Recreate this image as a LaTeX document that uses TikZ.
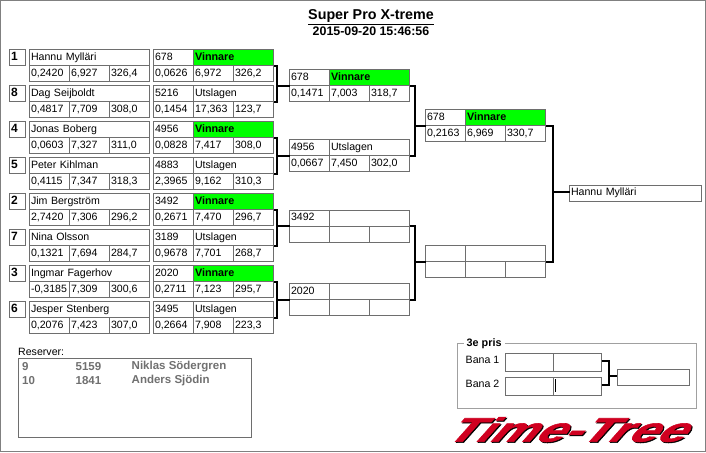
\documentclass[tikz,border=0pt]{standalone}
\usepackage{fontspec}
\setmainfont{Liberation Sans}
\newfontfamily\logofont[UprightFont={* Bold},FakeBold=1.6]{Liberation Sans}
\definecolor{linegray}{HTML}{6E6E6E}
\definecolor{framegray}{HTML}{808080}
\definecolor{lightgray2}{HTML}{A0A0A0}
\definecolor{vgreen}{HTML}{00FF00}
\definecolor{logored}{HTML}{D00020}
\definecolor{resgray}{HTML}{707070}
\tikzset{
  base/.style={font=\fontsize{10.6}{12}\selectfont},
  cell/.style={base,draw=linegray,line width=1pt,anchor=north west,outer sep=0pt,inner xsep=1.5pt,inner ysep=0pt,
     minimum height=16pt,text height=8pt,text depth=2.5pt,align=left},
  br/.style={draw=black,line width=2pt,line cap=butt,line join=miter},
  plain/.style={base,anchor=west,inner sep=0pt},
  resv/.style={font=\fontsize{11.5}{12}\selectfont\bfseries,text=resgray,anchor=west,inner sep=0pt},
  logotext/.style={font=\logofont\fontsize{34}{36}\selectfont,inner sep=0pt,xscale=1.49,xslant=0.6},
}
\newcommand\rowcells[6]{%
  \node[cell,text width=37pt] (#1-c) at (#2,#3) {#4};
  \node[cell,text width=37pt] (#1-d) at (#2+40,#3) {#5};
  \node[cell,text width=37pt] (#1-e) at (#2+80,#3) {#6};
}
\newcommand\entrant[5]{% name x y seed driver
  \node[cell,font=\fontsize{12}{12}\selectfont\bfseries,text width=13pt,minimum height=15.5pt] (#1-s) at (#2-20,#3) {#4};
  \node[cell,text width=117pt] (#1-a) at (#2,#3) {#5};
}
\newcommand\resbox[8]{% name x y id state s1 s2 s3
  \node[cell,text width=37pt] (#1-a) at (#2,#3) {#4};
  \node[cell,text width=77pt] (#1-b) at (#2+40,#3) {#5};
  \rowcells{#1}{#2}{#3+16}{#6}{#7}{#8}
}
\newcommand\winbox[7]{%
  \node[cell,text width=37pt] (#1-a) at (#2,#3) {#4};
  \node[cell,text width=77pt,fill=vgreen,font=\fontsize{10.8}{12}\selectfont\bfseries] (#1-b) at (#2+40,#3) {Vinnare};
  \rowcells{#1}{#2}{#3+16}{#5}{#6}{#7}
}
\newcommand\brk[4]{% top anchor, bottom anchor, spine x, target
  \coordinate (sp) at (#3,0);
  \draw[br] (#1) -| (sp |- #2) -- (#2);
  \draw[br] (sp |- #4) -- (#4);
}
\begin{document}
\begin{tikzpicture}[x=1pt,y=-1pt]
\useasboundingbox (0,0) rectangle (706,452);
\fill[white] (0,0) rectangle (706,452);
\draw[framegray,line width=1.2pt] (0.6,0.6) rectangle (705.4,451.4);

\node[font=\fontsize{14.3}{16}\selectfont\bfseries,inner sep=0pt] (title) at (371,17) {\underline{Super Pro X-treme}};
\node[font=\fontsize{12.4}{14}\selectfont\bfseries,inner sep=0pt] (stamp) at (371,31.5) {2015-09-20 15:46:56};

% Round 1: drivers
\entrant{e1}{29.5}{49.5}{1}{Hannu Mylläri}\rowcells{e1}{29.5}{65.5}{0,2420}{6,927}{326,4}
\entrant{e8}{29.5}{85.5}{8}{Dag Seijboldt}\rowcells{e8}{29.5}{101.5}{0,4817}{7,709}{308,0}
\entrant{e4}{29.5}{121.5}{4}{Jonas Boberg}\rowcells{e4}{29.5}{137.5}{0,0603}{7,327}{311,0}
\entrant{e5}{29.5}{157.5}{5}{Peter Kihlman}\rowcells{e5}{29.5}{173.5}{0,4115}{7,347}{318,3}
\entrant{e2}{29.5}{193.5}{2}{Jim Bergström}\rowcells{e2}{29.5}{209.5}{2,7420}{7,306}{296,2}
\entrant{e7}{29.5}{229.5}{7}{Nina Olsson}\rowcells{e7}{29.5}{245.5}{0,1321}{7,694}{284,7}
\entrant{e3}{29.5}{265.5}{3}{Ingmar Fagerhov}\rowcells{e3}{29.5}{281.5}{-0,3185}{7,309}{300,6}
\entrant{e6}{29.5}{301.5}{6}{Jesper Stenberg}\rowcells{e6}{29.5}{317.5}{0,2076}{7,423}{307,0}

% Round 1 results
\winbox{m1}{153.5}{49.5}{678}{0,0626}{6,972}{326,2}
\resbox{m2}{153.5}{85.5}{5216}{Utslagen}{0,1454}{17,363}{123,7}
\winbox{m3}{153.5}{121.5}{4956}{0,0828}{7,417}{308,0}
\resbox{m4}{153.5}{157.5}{4883}{Utslagen}{2,3965}{9,162}{310,3}
\winbox{m5}{153.5}{193.5}{3492}{0,2671}{7,470}{296,7}
\resbox{m6}{153.5}{229.5}{3189}{Utslagen}{0,9678}{7,701}{268,7}
\winbox{m7}{153.5}{265.5}{2020}{0,2711}{7,123}{295,7}
\resbox{m8}{153.5}{301.5}{3495}{Utslagen}{0,2664}{7,908}{223,3}

% Round 2
\winbox{q1}{289.5}{69.5}{678}{0,1471}{7,003}{318,7}
\resbox{q2}{289.5}{139.5}{4956}{Utslagen}{0,0667}{7,450}{302,0}
\resbox{q3}{289.5}{210}{3492}{}{}{}{}
\resbox{q4}{289.5}{283.5}{2020}{}{}{}{}

% Round 3
\winbox{s1}{425.5}{109.5}{678}{0,2163}{6,969}{330,7}
\resbox{s2}{425.5}{245.5}{}{}{}{}{}

% Final
\node[cell,text width=129pt] (final) at (569.5,185) {Hannu Mylläri};
\coordinate (finalin) at ([yshift=1pt]final.west);

% Brackets
\brk{m1-e.north east}{m2-e.north east}{276.5}{q1-c.north west}
\brk{m3-e.north east}{m4-e.north east}{276.5}{q2-c.north west}
\brk{m5-e.north east}{m6-e.north east}{276.5}{q3-c.north west}
\brk{m7-e.north east}{m8-e.north east}{276.5}{q4-c.north west}
\brk{q1-e.north east}{q2-e.north east}{415}{s1-c.north west}
\brk{q3-e.north east}{q4-e.north east}{415}{s2-c.north west}
\brk{s1-e.north east}{s2-e.north east}{552.5}{finalin}

% Reserves
\node[plain] (reslabel) at (18,351.5) {Reserver:};
\node[draw=linegray,line width=1pt,anchor=north west,minimum width=233pt,minimum height=78.5pt,outer sep=0pt,inner sep=0pt] (resbox) at (18.5,358.8) {};
\node[resv] (r1a) at (22,367) {9};
\node[resv] (r1b) at (75.5,367) {5159};
\node[resv] (r1c) at (131.5,367) {Niklas Södergren};
\node[resv] (r2a) at (22,380.5) {10};
\node[resv] (r2b) at (75.5,380.5) {1841};
\node[resv] (r2c) at (131.5,380.5) {Anders Sjödin};

% Third place
\node[draw=lightgray2,line width=1pt,anchor=north west,minimum width=239.5pt,minimum height=64.5pt,outer sep=0pt,inner sep=0pt] (group) at (457.3,343.8) {};
\node[plain,fill=white,inner xsep=3pt,font=\fontsize{10.8}{12}\selectfont\bfseries] (groupt) at (463.5,344) {3e pris};
\node[plain] (bana1) at (465.5,360) {Bana 1};
\node[plain] (bana2) at (465.5,384) {Bana 2};
\tikzset{blank/.style={draw=linegray,line width=1pt,anchor=north west,outer sep=0pt,inner sep=0pt,minimum height=18pt,minimum width=48pt}}
\node[blank] (b1l) at (505.5,353.3) {};
\node[blank] (b1r) at (553.5,353.3) {};
\node[blank] (b2l) at (505.5,377.3) {};
\node[blank] (b2r) at (553.5,377.3) {};
\node[blank,minimum width=72.5pt,minimum height=16.5pt] (b3) at (617.3,369.3) {};
\draw[black,line width=1pt] (555.3,379.3) -- (555.3,391.7);
\coordinate (b1out) at ([yshift=1.6pt]b1r.east);
\coordinate (b2out) at ([yshift=1.3pt]b2r.east);
\coordinate (b3in) at ([yshift=1.2pt]b3.west);
\brk{b1out}{b2out}{609.3}{b3in}

% Logo
\node[logotext,text=black] (logoshadow) at (574.5,430.5) {Time-Tree};
\node[logotext,text=logored] (logo) at (573.5,429.5) {Time-Tree};
\end{tikzpicture}
\end{document}
